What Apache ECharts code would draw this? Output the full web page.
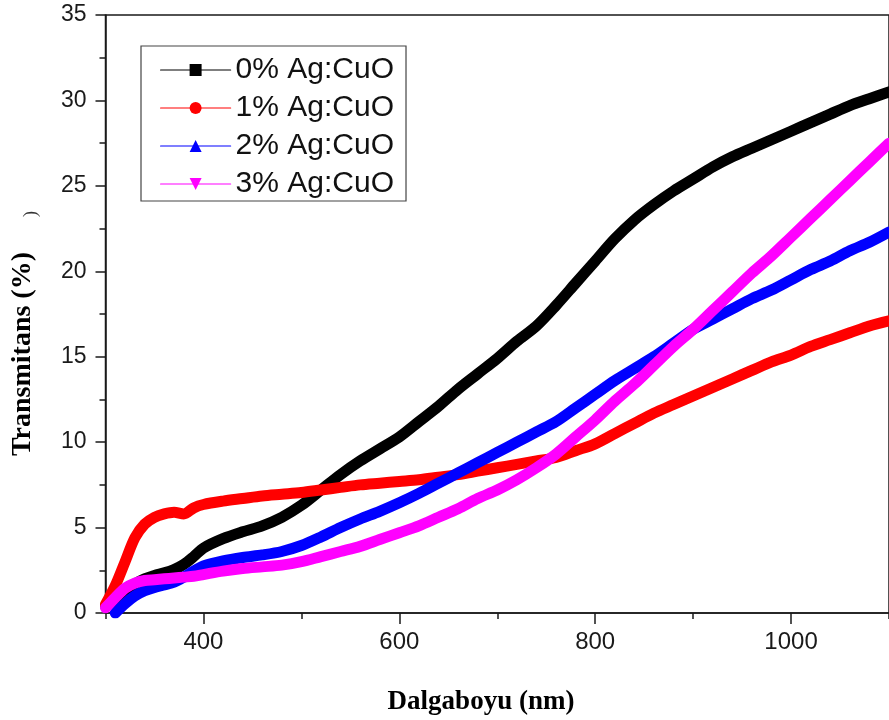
<!DOCTYPE html>
<html>
<head>
<meta charset="utf-8">
<script src="https://cdn.jsdelivr.net/npm/echarts@6/dist/echarts.min.js"></script>
<style>
  html, body {margin: 0; padding: 0; background: #fff;}
  #chart {width: 889px; height: 720px;}
</style>
</head>
<body>
<div id="chart"></div>
<script>
// wavelength (nm)
var wavelengths = [300, 310, 320, 330, 340, 350, 360, 370, 380, 390, 400,
    420, 440, 460, 480, 500, 520, 540, 560, 580, 600,
    620, 640, 660, 680, 700, 720, 740, 760, 780, 800,
    820, 840, 860, 880, 900, 920, 940, 960, 980, 1000,
    1020, 1040, 1060, 1080, 1100];

// transmittance (%)
var ag0 = [0.4, 0.8, 1.3, 1.7, 2.0, 2.2, 2.35, 2.55, 2.85, 3.3, 3.8,
    4.35, 4.75, 5.1, 5.6, 6.3, 7.2, 8.1, 8.9, 9.6, 10.3,
    11.2, 12.1, 13.1, 14.0, 14.9, 15.9, 16.8, 18.0, 19.3, 20.6,
    21.9, 23.0, 23.9, 24.7, 25.4, 26.1, 26.7, 27.2, 27.7, 28.2,
    28.7, 29.2, 29.7, 30.1, 30.5];
var ag1 = [0.5, 1.6, 3.0, 4.4, 5.2, 5.6, 5.8, 5.9, 5.8, 6.15, 6.35,
    6.55, 6.7, 6.85, 6.95, 7.05, 7.2, 7.35, 7.5, 7.6, 7.7,
    7.8, 7.95, 8.1, 8.3, 8.5, 8.7, 8.9, 9.1, 9.5, 9.9,
    10.5, 11.1, 11.7, 12.2, 12.7, 13.2, 13.7, 14.2, 14.7, 15.1,
    15.6, 16.0, 16.4, 16.8, 17.1];
var ag2 = [null, 0.0, 0.55, 1.0, 1.3, 1.5, 1.65, 1.8, 2.1, 2.45, 2.75,
    3.05, 3.25, 3.4, 3.6, 3.95, 4.45, 5.0, 5.5, 5.95, 6.45,
    7.0, 7.6, 8.2, 8.8, 9.4, 10.0, 10.6, 11.2, 12.0, 12.8,
    13.6, 14.3, 15.0, 15.8, 16.6, 17.2, 17.8, 18.4, 18.9, 19.5,
    20.1, 20.6, 21.2, 21.7, 22.3];
var ag3 = [0.3, 0.9, 1.45, 1.75, 1.9, 1.95, 2.0, 2.05, 2.1, 2.15, 2.25,
    2.45, 2.6, 2.7, 2.8, 3.0, 3.3, 3.6, 3.9, 4.3, 4.7,
    5.1, 5.6, 6.1, 6.7, 7.2, 7.8, 8.5, 9.3, 10.3, 11.3,
    12.4, 13.4, 14.5, 15.6, 16.6, 17.7, 18.8, 19.9, 20.9, 22.0,
    23.1, 24.2, 25.3, 26.4, 27.5];

var seriesNames = ['0% Ag:CuO', '1% Ag:CuO', '2% Ag:CuO', '3% Ag:CuO'];

// tick positions
var xMajorTicks = [400, 600, 800, 1000];
var xMinorTicks = [300, 500, 700, 900, 1100];

var axisColor = '#1a1a1a';
var sans = '"Liberation Sans", Arial, sans-serif';
var serif = '"Liberation Serif", "Times New Roman", serif';

function pairs(ys) {
    return wavelengths.map(function (x, i) {
        return [x, ys[i]];
    });
}

function makeLine(name, ys, color, symbol, rotate) {
    return {
        name: name,
        type: 'line',
        data: pairs(ys),
        xAxisIndex: 0,
        showSymbol: false,
        symbol: symbol,
        symbolRotate: rotate || 0,
        smooth: 0.3,
        itemStyle: {color: color},
        lineStyle: {color: color, width: 11, cap: 'round', join: 'round'},
        emphasis: {disabled: true},
        animation: false
    };
}

var chart = echarts.init(document.getElementById('chart'));
chart.setOption({
    backgroundColor: '#fff',
    animation: false,
    grid: {
        left: 105.5,
        top: 15,
        width: 790,
        bottom: 107,
        show: true,
        borderColor: axisColor,
        borderWidth: 1.5,
        backgroundColor: 'transparent'
    },
    legend: {
        data: seriesNames,
        orient: 'vertical',
        left: 141,
        top: 46,
        padding: [9, 12, 2, 19],
        itemWidth: 70,
        itemHeight: 15,
        itemGap: 8,
        borderColor: '#444',
        borderWidth: 1.2,
        lineStyle: {width: 1.2},
        symbolRotate: 'inherit',
        textStyle: {
            fontFamily: sans,
            fontSize: 30,
            color: '#111'
        }
    },
    xAxis: [
        {
            type: 'value',
            min: 300,
            max: 1100,
            position: 'bottom',
            axisLine: {show: true, onZero: false, lineStyle: {color: axisColor, width: 1.5}},
            axisTick: {show: true, length: 11, customValues: xMajorTicks, lineStyle: {color: axisColor, width: 1.5}},
            axisLabel: {
                customValues: xMajorTicks,
                formatter: function (v) { return String(v); },
                margin: 17,
                fontFamily: sans,
                fontSize: 24,
                color: '#1a1a1a'
            },
            splitLine: {show: false}
        },
        {
            type: 'value',
            min: 300,
            max: 1100,
            position: 'bottom',
            axisLine: {show: false, onZero: false},
            axisTick: {show: true, length: 6, customValues: xMinorTicks, lineStyle: {color: axisColor, width: 1.5}},
            axisLabel: {show: false},
            splitLine: {show: false}
        }
    ],
    yAxis: {
        type: 'value',
        min: 0,
        max: 35,
        interval: 5,
        axisLine: {show: true, lineStyle: {color: axisColor, width: 1.5}},
        axisTick: {show: true, length: 10, lineStyle: {color: axisColor, width: 1.5}},
        minorTick: {show: true, splitNumber: 2, length: 6, lineStyle: {color: axisColor, width: 1.5}},
        axisLabel: {
            margin: 19,
            fontFamily: sans,
            fontSize: 23,
            color: '#1a1a1a'
        },
        splitLine: {show: false}
    },
    graphic: [
        {
            type: 'text',
            x: 481,
            y: 702,
            style: {
                text: 'Dalgaboyu (nm)',
                font: 'bold 27px ' + serif,
                fill: '#000',
                align: 'center',
                verticalAlign: 'middle'
            }
        },
        {
            type: 'text',
            x: 23,
            y: 354,
            rotation: Math.PI / 2,
            style: {
                text: 'Transmitans (%)',
                font: 'bold 28px ' + serif,
                fill: '#000',
                align: 'center',
                verticalAlign: 'middle'
            }
        },
        {
            type: 'text',
            x: 31,
            y: 214,
            rotation: Math.PI / 2,
            style: {
                text: ')',
                font: '18px ' + serif,
                fill: '#333',
                align: 'center',
                verticalAlign: 'middle'
            }
        }
    ],
    series: [
        makeLine(seriesNames[0], ag0, '#000000', 'rect'),
        makeLine(seriesNames[1], ag1, '#ff0000', 'circle'),
        makeLine(seriesNames[2], ag2, '#0000ff', 'triangle'),
        makeLine(seriesNames[3], ag3, '#ff00ff', 'triangle', 180)
    ]
});
</script>
</body>
</html>
